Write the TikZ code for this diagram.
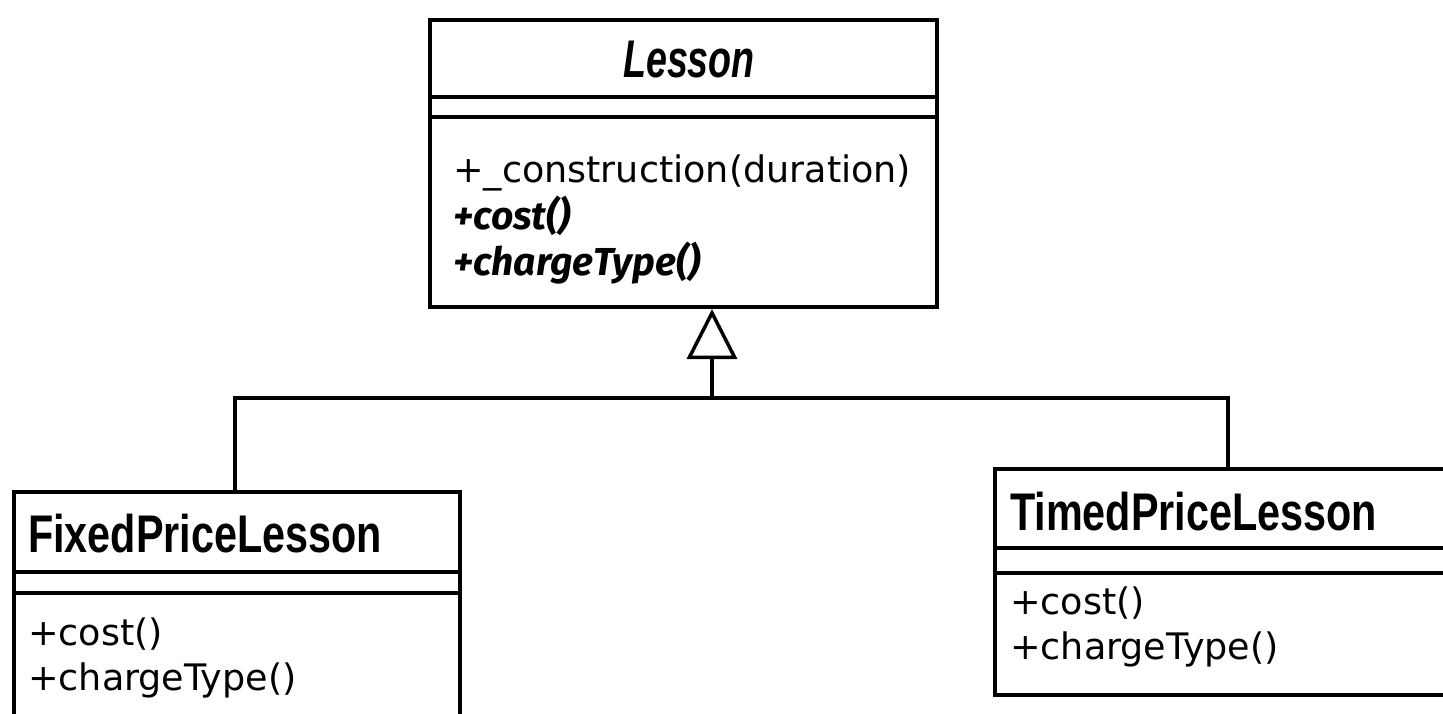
\documentclass[tikz,border=0pt]{standalone}
\usepackage{fontspec}
\setmainfont{DejaVu Sans}
\newfontfamily\boldit{Fira Sans}
\newfontfamily\titlefont[FakeStretch=0.78]{Liberation Sans}
\newfontfamily\titleitfont[FakeStretch=0.71]{Liberation Sans}
\usetikzlibrary{arrows.meta,calc}
\begin{document}
\begin{tikzpicture}[x=1pt,y=-1pt,
  box/.style={draw, line width=4pt, inner sep=0pt},
  divider/.style={line width=4pt},
  ttl/.style={font=\titlefont\bfseries\fontsize{53}{60}\selectfont, inner sep=0pt},
  meth/.style={font=\fontsize{36.5}{44}\selectfont, anchor=base west, inner sep=0pt},
  absmeth/.style={meth, font=\boldit\bfseries\itshape\fontsize{39}{44}\selectfont},
  conn/.style={line width=3.5pt}]
\useasboundingbox (0,0) rectangle (1443,713);
\clip (0,0) rectangle (1443,713);
% Lesson
\node[box, minimum width=507pt, minimum height=287pt] (Lesson) at (683.5,163.5) {};
\draw[divider] (Lesson.west |- 0,97) -- (Lesson.east |- 0,97);
\draw[divider] (Lesson.west |- 0,117) -- (Lesson.east |- 0,117);
\node[ttl, anchor=base, font=\titleitfont\bfseries\itshape\fontsize{53}{60}\selectfont] (LessonT) at (689,77) {Lesson};
\node[meth] (L1) at (453,182) {+\_construction(duration)};
\node[absmeth] (L2) at (453,229) {+cost()};
\node[absmeth] (L3) at (453,275) {+chargeType()};
% Fixed
\node[box, minimum width=446pt, minimum height=260pt] (Fixed) at (237,622) {};
\draw[divider] (Fixed.west |- 0,572) -- (Fixed.east |- 0,572);
\draw[divider] (Fixed.west |- 0,593) -- (Fixed.east |- 0,593);
\node[ttl, anchor=base west] (FixedT) at (28,552) {FixedPriceLesson};
\node[meth] (F1) at (28,645) {+cost()};
\node[meth] (F2) at (28,690) {+chargeType()};
% Timed
\node[box, minimum width=500pt, minimum height=226pt] (Timed) at (1245,582) {};
\draw[divider] (Timed.west |- 0,548) -- (Timed.east |- 0,548);
\draw[divider] (Timed.west |- 0,573) -- (Timed.east |- 0,573);
\node[ttl, anchor=base west] (TimedT) at (1010,530) {TimedPriceLesson};
\node[meth] (T1) at (1010,614) {+cost()};
\node[meth] (T2) at (1010,659) {+chargeType()};
% connectors
\coordinate (hub) at (712,398);
\coordinate (fixtop) at (235,398);
\coordinate (timtop) at (1228,398);
\draw[conn] (fixtop |- Fixed.north) -- (fixtop) -- (timtop) -- (timtop |- Timed.north);
\draw[conn, -{Triangle[open, length=50pt, width=50pt, line width=3.5pt]}] (hub) -- (hub |- Lesson.south);
\end{tikzpicture}
\end{document}
